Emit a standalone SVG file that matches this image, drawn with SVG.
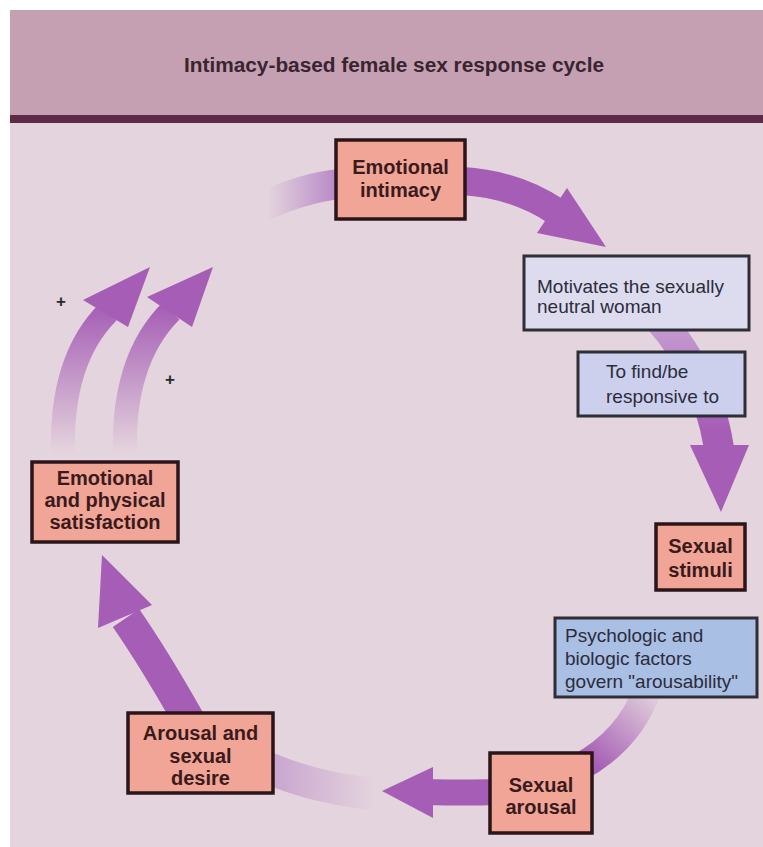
<svg xmlns="http://www.w3.org/2000/svg" width="763" height="847" viewBox="0 0 763 847">
<defs>
<style>
.bg{fill:#e4d4dd}
.hdr{fill:#c4a0b2}
.rule{fill:#5e2a45}
.title{font-family:"Liberation Sans",Arial,sans-serif;font-weight:bold;font-size:20px;fill:#3a2430}
.sal rect{fill:#f1a597;stroke:#2b1518;stroke-width:3.5}
.sal text{font-family:"Liberation Sans",Arial,sans-serif;font-weight:bold;font-size:20px;fill:#3b1a1c;text-anchor:middle}
.blu rect{stroke:#2e2e36;stroke-width:3}
.blu text{font-family:"Liberation Sans",Arial,sans-serif;font-size:19px;fill:#2c2c3c}
.shaft{fill:none}
.head{fill:#a55db5}
.plus{font-family:"Liberation Sans",Arial,sans-serif;font-size:17px;font-weight:bold;fill:#2a2a2a;text-anchor:middle}
</style>
<linearGradient id="g2" gradientUnits="userSpaceOnUse" x1="0" y1="320" x2="0" y2="430">
<stop offset="0" stop-color="#c79fd2"/><stop offset="1" stop-color="#a55db5"/>
</linearGradient>
<linearGradient id="g3" gradientUnits="userSpaceOnUse" x1="645" y1="695" x2="588" y2="760">
<stop offset="0" stop-color="#a55db5" stop-opacity="0.1"/><stop offset="1" stop-color="#a55db5" stop-opacity="1"/>
</linearGradient>
<linearGradient id="g5" gradientUnits="userSpaceOnUse" x1="273" y1="0" x2="375" y2="0">
<stop offset="0" stop-color="#a86cbd" stop-opacity="0.45"/><stop offset="1" stop-color="#a86cbd" stop-opacity="0"/>
</linearGradient>
<linearGradient id="g7" gradientUnits="userSpaceOnUse" x1="0" y1="452" x2="0" y2="305">
<stop offset="0" stop-color="#a55db5" stop-opacity="0"/><stop offset="1" stop-color="#a55db5" stop-opacity="1"/>
</linearGradient>
<linearGradient id="g8" gradientUnits="userSpaceOnUse" x1="336" y1="0" x2="268" y2="0">
<stop offset="0" stop-color="#a970c0" stop-opacity="0.75"/><stop offset="1" stop-color="#a970c0" stop-opacity="0"/>
</linearGradient>
</defs>

<rect x="10" y="10" width="753" height="837" class="bg"/>
<rect x="10" y="10" width="753" height="105" class="hdr"/>
<rect x="10" y="115" width="753" height="8" class="rule"/>
<text x="394" y="72" class="title" text-anchor="middle" textLength="420" lengthAdjust="spacingAndGlyphs">Intimacy-based female sex response cycle</text>

<g id="connectors">
  <path class="shaft" d="M340,184 Q300,188 250,212" stroke="url(#g8)" stroke-width="30"/>
  <path class="shaft" d="M462,181 Q515,184 557,212" stroke="#a55db5" stroke-width="28"/>
  <polygon class="head" points="567,188 537,233 606,247"/>
  <path class="shaft" d="M640,300 Q705,360 719,448" stroke="url(#g2)" stroke-width="30"/>
  <polygon class="head" points="690,445 749,445 721,512"/>
  <path class="shaft" d="M648,688 Q630,740 578,768" stroke="url(#g3)" stroke-width="28"/>
  <path class="shaft" d="M495,792 Q470,793 425,792" stroke="#a55db5" stroke-width="26"/>
  <polygon class="head" points="433,767 433,818 382,791"/>
  <path class="shaft" d="M268,768 Q320,790 385,795" stroke="url(#g5)" stroke-width="32"/>
  <path class="shaft" d="M190,722 Q155,660 126,618" stroke="#a55db5" stroke-width="32"/>
  <polygon class="head" points="98,628 152,605 102,555"/>
  <path class="shaft" d="M63,455 Q60,360 108,312" stroke="url(#g7)" stroke-width="24"/>
  <polygon class="head" points="83,300 128,327 150,267"/>
  <path class="shaft" d="M125,455 Q122,360 171,311" stroke="url(#g7)" stroke-width="24"/>
  <polygon class="head" points="147,297 192,327 213,267"/>
  <text x="61" y="307" class="plus">+</text>
  <text x="170" y="385" class="plus">+</text>
</g>

<g id="emotional-intimacy" class="sal">
  <rect x="336" y="140" width="129" height="79"/>
  <text x="400.5" y="174">Emotional</text>
  <text x="400.5" y="197">intimacy</text>
</g>
<g id="motivates" class="blu">
  <rect x="524" y="256" width="225" height="74" fill="#dddcee"/>
  <text x="537" y="293">Motivates the sexually</text>
  <text x="537" y="313">neutral woman</text>
</g>
<g id="find-responsive" class="blu">
  <rect x="578" y="352" width="167" height="64" fill="#ccd0ec"/>
  <text x="606" y="378">To find/be</text>
  <text x="606" y="403">responsive to</text>
</g>
<g id="sexual-stimuli" class="sal">
  <rect x="656" y="524" width="89" height="66"/>
  <text x="700.5" y="553">Sexual</text>
  <text x="700.5" y="577">stimuli</text>
</g>
<g id="psychologic" class="blu">
  <rect x="555" y="618" width="202" height="79" fill="#a9bfe4"/>
  <text x="565" y="642">Psychologic and</text>
  <text x="565" y="665">biologic factors</text>
  <text x="565" y="688">govern "arousability"</text>
</g>
<g id="sexual-arousal" class="sal">
  <rect x="490" y="753" width="102" height="80"/>
  <text x="541" y="792">Sexual</text>
  <text x="541" y="814">arousal</text>
</g>
<g id="arousal-desire" class="sal">
  <rect x="128" y="713" width="145" height="80"/>
  <text x="200.5" y="740">Arousal and</text>
  <text x="200.5" y="763">sexual</text>
  <text x="200.5" y="785">desire</text>
</g>
<g id="satisfaction" class="sal">
  <rect x="32" y="462" width="146" height="80"/>
  <text x="105" y="485">Emotional</text>
  <text x="105" y="507">and physical</text>
  <text x="105" y="529">satisfaction</text>
</g>
</svg>
